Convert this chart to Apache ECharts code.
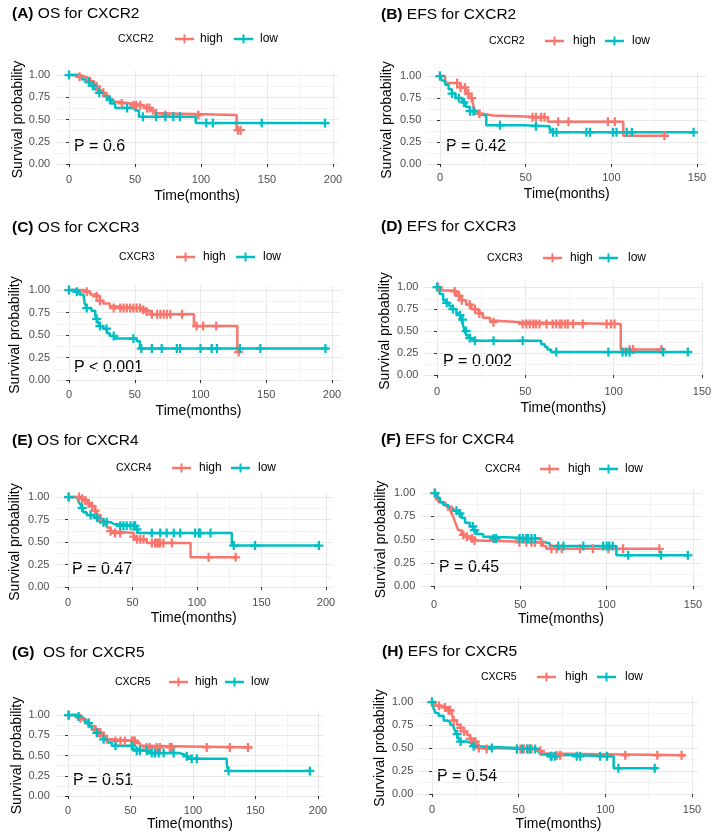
<!DOCTYPE html>
<html><head><meta charset="utf-8">
<script src="https://cdn.jsdelivr.net/npm/echarts@6/dist/echarts.min.js"></script>
<style>html,body{margin:0;padding:0;background:#fff}#c{width:720px;height:833px}</style>
</head><body><div id="c"></div>
<script>
// ---------------- DATA ----------------
const panelLabels = ['(A)', '(B)', '(C)', '(D)', '(E)', '(F)', '(G)', '(H)'];
const panelTitles = ['OS for CXCR2', 'EFS for CXCR2', 'OS for CXCR3', 'EFS for CXCR3',
                     'OS for CXCR4', 'EFS for CXCR4', 'OS for CXCR5', 'EFS for CXCR5'];
const legendTitles = ['CXCR2', 'CXCR2', 'CXCR3', 'CXCR3', 'CXCR4', 'CXCR4', 'CXCR5', 'CXCR5'];
const groupNames = ['high', 'low'];
const pValues = ['P = 0.6', 'P = 0.42', 'P < 0.001', 'P = 0.002', 'P = 0.47', 'P = 0.45', 'P = 0.51', 'P = 0.54'];
const xTicksOS = [0, 50, 100, 150, 200];
const xTicksEFS = [0, 50, 100, 150];
const yTicks = [0, 0.25, 0.5, 0.75, 1];
const xAxisTitle = 'Time(months)';
const yAxisTitle = 'Survival probability';

// Kaplan-Meier steps [time, survival] (last point = end of follow-up) and censor times
const aHighSteps = [[0,1],[8,0.98],[12,0.96],[16,0.93],[19,0.9],[21,0.87],[23,0.83],[25,0.8],[27,0.77],[30,0.73],[33,0.7],[37,0.68],[47,0.66],[57,0.63],[62,0.6],[65,0.57],[70,0.55],[127,0.38],[131,0.38]];
const aHighCensor = [8,16,21,26,40,49,51,54,59,61,66,73,98,128,130];
const aLowSteps = [[0,1],[6,0.98],[10,0.95],[13,0.92],[16,0.88],[19,0.84],[22,0.8],[26,0.76],[29,0.72],[32,0.68],[35,0.63],[50,0.6],[53,0.53],[96,0.46],[194,0.46]];
const aLowCensor = [0,15,18,23,31,44,56,66,73,79,84,104,109,146,194];

const bHighSteps = [[0,1],[3,0.92],[12,0.87],[15,0.8],[17,0.75],[19,0.7],[20,0.63],[21,0.6],[23,0.57],[25,0.55],[31,0.53],[63,0.48],[107,0.32],[133,0.32]];
const bHighCensor = [0,10,12,14.5,16.5,18.5,23,54,56,59,61,69,75,98,102,131];
const bLowSteps = [[0,1],[1,0.95],[3,0.9],[5,0.85],[7,0.8],[9,0.75],[13,0.7],[15,0.65],[17.5,0.6],[20,0.57],[22,0.55],[27,0.44],[48.5,0.43],[64,0.39],[66,0.36],[148,0.36]];
const bLowCensor = [0,7,11,14,17.5,19.5,35,56,66,68,85.5,87.5,101,103,109,112,148];

const cHighSteps = [[0,1],[11,0.98],[16,0.95],[21,0.93],[23.5,0.88],[26,0.85],[31,0.82],[34,0.8],[55,0.78],[59,0.76],[63,0.73],[95,0.6],[128,0.31],[129,0.31]];
const cHighCensor = [0,13.5,21,23.5,34,39,41.5,44,46.5,49,51.5,54,56.5,59,63,67,69.5,72,74.5,77,86,97,102,112,129];
const cLowSteps = [[0,1],[6,0.98],[8,0.95],[11,0.93],[12,0.85],[13.5,0.8],[17,0.77],[20,0.72],[21,0.68],[22,0.64],[23.5,0.6],[26,0.57],[29,0.52],[31,0.49],[35,0.46],[51.5,0.43],[54,0.35],[197,0.35]];
const cLowCensor = [0,6,13.5,21,23.5,28.5,34,49,55,63,70.5,82,84.5,100,108.5,112.5,130,145.5,195];

const dHighSteps = [[0,1],[2.5,0.96],[9,0.95],[11,0.9],[14,0.85],[16.5,0.8],[19.5,0.75],[22,0.73],[24,0.7],[26,0.65],[30,0.62],[32,0.6],[47,0.58],[104,0.29],[128,0.29]];
const dHighCensor = [0.5,10,12.5,14,18.5,21.5,24,32,48.5,50.5,52.5,54.5,56,58,62,65.5,67.5,69.5,70.5,72.5,74,77,82.5,96,98.5,100.5,109,111,127];
const dLowSteps = [[0,1],[1.5,0.92],[3.5,0.85],[5,0.82],[7,0.78],[9,0.75],[11,0.7],[12.8,0.68],[13.7,0.63],[14.7,0.57],[15.7,0.5],[16.6,0.45],[18.5,0.42],[20,0.39],[59,0.35],[61,0.32],[62.5,0.29],[64.5,0.26],[143,0.26]];
const dLowCensor = [0,5.5,9,13,14.5,16.5,18.5,21.5,32,48.5,67.5,97,105,107,109,128,142];

const eHighSteps = [[0,1],[9.5,0.98],[12,0.96],[16,0.93],[18.5,0.9],[21,0.85],[22.5,0.8],[25,0.75],[27.5,0.7],[30,0.66],[33,0.62],[35.5,0.6],[51,0.56],[53.5,0.53],[61,0.49],[95,0.33],[131,0.33]];
const eHighCensor = [0.5,8.5,11,13.5,16,18.5,21,22.5,25,33,36.5,40.5,51,53.5,56,58.5,65,67.5,69,70.5,71.5,74,80.5,109,130];
const eLowSteps = [[0,1],[5.5,0.98],[8,0.95],[9.5,0.92],[11,0.88],[12,0.83],[14.5,0.8],[20,0.77],[24,0.73],[27.5,0.72],[33,0.7],[35.5,0.68],[53.5,0.64],[55,0.6],[127,0.46],[195,0.46]];
const eLowCensor = [0.5,11,17.5,22.5,27.5,30,40.5,43,45.5,48.5,51,52,53.5,65,71.5,76.5,82,87,98.5,101.5,102.5,110.5,128.5,145,194.5];

const fHighSteps = [[0,1],[1.2,0.93],[2.5,0.9],[6.4,0.88],[7.3,0.85],[9.2,0.82],[10.2,0.78],[11,0.75],[12,0.7],[13,0.65],[14,0.6],[16,0.55],[18,0.53],[20.8,0.51],[22.7,0.49],[24.7,0.47],[63,0.43],[65,0.4],[130.5,0.4]];
const fHighCensor = [0.5,10,17,19,22,23.5,49.5,53.5,56.5,58.5,62,68,71,74,84.5,92,101,109.5,130.5];
const fLowSteps = [[0,1],[2,0.95],[3.5,0.9],[5.4,0.87],[8.3,0.84],[11,0.81],[14,0.78],[16,0.73],[18,0.68],[20.8,0.64],[22.7,0.6],[24.7,0.56],[28.5,0.53],[32.4,0.51],[62,0.48],[63,0.46],[67,0.43],[105.6,0.33],[147,0.33]];
const fLowCensor = [0.5,13,15,22.5,23.5,34.5,36,49.5,51.5,53.5,54.5,56.5,58.5,72,75,86.5,98,100,101.5,103.5,112.5,131.5,147];

const gHighSteps = [[0,1],[7,0.98],[10,0.96],[12.5,0.93],[15,0.9],[17.8,0.86],[21.8,0.82],[24.5,0.78],[27,0.74],[31,0.7],[35,0.68],[55,0.65],[57.7,0.62],[60,0.6],[147,0.6]];
const gHighCensor = [0.5,10,16.5,22,24.5,26,28.5,31,38,42,45.5,51,52.5,53.5,63,65.5,71,73.5,81.5,83,111,129.5,144];
const gLowSteps = [[0,1],[7,0.98],[11,0.95],[14,0.9],[16.8,0.86],[19,0.82],[21.8,0.78],[24.5,0.74],[28.5,0.7],[32,0.66],[35,0.62],[52,0.58],[55,0.56],[64,0.53],[89,0.51],[93.5,0.49],[96,0.46],[127,0.4],[128,0.31],[195,0.31]];
const gLowCensor = [0.5,8.5,16.5,23,28.5,38,51,55,57.5,63,67,69.5,72.5,76.5,84.5,95,99,103,128.5,193.5];

const hHighSteps = [[0,1],[2,0.96],[4.8,0.94],[8.7,0.91],[11.5,0.87],[12.5,0.8],[14.4,0.75],[16.3,0.72],[18.3,0.68],[20.2,0.64],[22,0.6],[24,0.57],[26,0.53],[27,0.5],[28,0.49],[60.6,0.47],[63,0.44],[65,0.42],[146,0.42]];
const hHighCensor = [0,4,7.5,9.5,10.5,12.5,16.5,18.5,22,25,27,31.5,49,51,53,55,56.5,57.5,62.5,72,74,111.5,130,144];
const hLowSteps = [[0,1],[1,0.93],[2,0.88],[3.8,0.85],[6.7,0.8],[8.7,0.78],[10.6,0.75],[12.5,0.72],[13.5,0.68],[14.4,0.65],[15.4,0.6],[16.3,0.57],[20.2,0.55],[23,0.52],[25,0.5],[49,0.49],[61.5,0.46],[62.5,0.43],[65.4,0.41],[104.8,0.28],[130,0.28]];
const hLowCensor = [0,14.5,16.5,24,34.5,49,52,55,56.5,59.5,68.5,69,71,83.5,85.5,97,101,107.5,128.5];

const highSteps = [aHighSteps, bHighSteps, cHighSteps, dHighSteps, eHighSteps, fHighSteps, gHighSteps, hHighSteps];
const highCensor = [aHighCensor, bHighCensor, cHighCensor, dHighCensor, eHighCensor, fHighCensor, gHighCensor, hHighCensor];
const lowSteps = [aLowSteps, bLowSteps, cLowSteps, dLowSteps, eLowSteps, fLowSteps, gLowSteps, hLowSteps];
const lowCensor = [aLowCensor, bLowCensor, cLowCensor, dLowCensor, eLowCensor, fLowCensor, gLowCensor, hLowCensor];
const xTicksPerPanel = [xTicksOS, xTicksEFS, xTicksOS, xTicksEFS, xTicksOS, xTicksEFS, xTicksOS, xTicksEFS];

// ---------------- LAYOUT / STYLE ----------------
const FF = '"Liberation Sans", Arial, sans-serif';
const COLORS = ['#F8766D', '#00BFC4'];
// x0: pixel of time 0, xe: pixel of last x tick, y1: pixel of 1.00, y0: pixel of 0.00
const layout = [
  {x0:69,  xe:333, y1:75,  y0:164, lblY:180, nGap:20.5, yGap:31, tx:12,  ty:14,  lg:[118,39,175,200,234,260],  px:74,  py:147, titleGap:' '},
  {x0:440, xe:697, y1:76,  y0:164, lblY:178, nGap:19,   yGap:33, tx:381, ty:15,  lg:[489,41,545,573,605,632],  px:446, py:147, titleGap:' '},
  {x0:69,  xe:332, y1:290, y0:380, lblY:395, nGap:19.5, yGap:34, tx:12,  ty:228, lg:[119,257,176,203,236,263], px:74,  py:368, titleGap:' '},
  {x0:437, xe:702, y1:287, y0:375, lblY:392, nGap:22,   yGap:32, tx:381, ty:227, lg:[487,258,543,570,599,628], px:443, py:362, titleGap:' '},
  {x0:68,  xe:326, y1:497, y0:587, lblY:603, nGap:20,   yGap:33, tx:12,  ty:441, lg:[116,468,172,199,231,258], px:72,  py:570, titleGap:' '},
  {x0:434, xe:693, y1:493, y0:586, lblY:605, nGap:21,   yGap:33, tx:381, ty:440, lg:[485,469,540,568,599,625], px:439, py:568, titleGap:' '},
  {x0:68,  xe:318, y1:715, y0:796, lblY:811, nGap:16.5, yGap:32, tx:12,  ty:653, lg:[115,682,169,195,225,251], px:73,  py:781, titleGap:'  '},
  {x0:432, xe:692, y1:702, y0:794, lblY:810, nGap:19,   yGap:32, tx:382, ty:652, lg:[481,677,537,565,597,625], px:437, py:777, titleGap:' '}
];
const PLUS = 'path://M3,0H5V3H8V5H5V8H3V5H0V3H3Z';
const EXPAND = 0.05; // ggplot default axis expansion

function survAt(steps, t) {
  let s = steps[0][1];
  for (const p of steps) { if (p[0] <= t) s = p[1]; }
  return s;
}

const grids = [], xAxes = [], yAxes = [], series = [], graphics = [];
for (let i = 0; i < 8; i++) {
  const L = layout[i];
  const xt = xTicksPerPanel[i];
  const tmax = Math.max(highSteps[i][highSteps[i].length - 1][0], lowSteps[i][lowSteps[i].length - 1][0],
                        Math.max(...highCensor[i]), Math.max(...lowCensor[i]));
  const xMin = -EXPAND * tmax, xMax = (1 + EXPAND) * tmax;
  const yMin = -EXPAND, yMax = 1 + EXPAND;
  const sx = (L.xe - L.x0) / xt[xt.length - 1];
  const sy = (L.y0 - L.y1);
  const gLeft = L.x0 + sx * xMin, gWidth = sx * (xMax - xMin);
  const gTop = L.y1 - sy * (yMax - 1), gHeight = sy * (yMax - yMin);
  grids.push({left: gLeft, top: gTop, width: gWidth, height: gHeight, containLabel: false});
  const xStep = xt[1] - xt[0], yStep = yTicks[1] - yTicks[0];
  xAxes.push({
    gridIndex: i, type: 'value', min: xMin, max: xMax, minInterval: xStep, maxInterval: xStep,
    axisLine: {show: false},
    axisTick: {show: true, length: 3, customValues: xt, lineStyle: {color: '#333333', width: 1}},
    axisLabel: {margin: L.lblY - 5.5 - (gTop + gHeight), customValues: xt, color: '#4d4d4d', fontSize: 11, fontFamily: FF},
    splitLine: {show: true, customValues: xt, lineStyle: {color: '#e8e8e8', width: 1}},
    minorTick: {show: false, splitNumber: 2},
    minorSplitLine: {show: true, lineStyle: {color: '#f3f3f3', width: 1}},
    name: xAxisTitle, nameLocation: 'middle', nameGap: L.nGap,
    nameTextStyle: {fontSize: 14, color: '#000', fontFamily: FF}
  });
  yAxes.push({
    gridIndex: i, type: 'value', min: yMin, max: yMax, minInterval: yStep, maxInterval: yStep,
    axisLine: {show: false},
    axisTick: {show: true, length: 3, customValues: yTicks, lineStyle: {color: '#333333', width: 1}},
    axisLabel: {margin: 6, customValues: yTicks, color: '#4d4d4d', fontSize: 11, fontFamily: FF, formatter: v => v.toFixed(2)},
    splitLine: {show: true, customValues: yTicks, lineStyle: {color: '#e8e8e8', width: 1}},
    minorTick: {show: false, splitNumber: 2},
    minorSplitLine: {show: true, lineStyle: {color: '#f3f3f3', width: 1}},
    name: yAxisTitle, nameLocation: 'middle', nameGap: L.yGap, nameRotate: 90,
    nameTextStyle: {fontSize: 14, color: '#000', fontFamily: FF}
  });
  const groups = [[highSteps[i], highCensor[i]], [lowSteps[i], lowCensor[i]]];
  groups.forEach((g, k) => {
    series.push({
      name: groupNames[k], type: 'line', xAxisIndex: i, yAxisIndex: i, data: g[0], step: 'end',
      showSymbol: false, symbol: 'none', clip: false, z: 2,
      lineStyle: {width: 2.5, color: COLORS[k]}, itemStyle: {color: COLORS[k]}
    });
  });
  groups.forEach((g, k) => {
    series.push({
      name: groupNames[k], type: 'scatter', xAxisIndex: i, yAxisIndex: i,
      data: g[1].map(t => [t, survAt(g[0], t)]),
      symbol: PLUS, symbolSize: 9, clip: false, z: 3,
      itemStyle: {color: COLORS[k], opacity: 1}
    });
  });
  // panel title
  graphics.push({type: 'text', x: L.tx, y: L.ty, style: {
    text: '{b|' + panelLabels[i] + '}{n|' + L.titleGap + panelTitles[i] + '}',
    rich: {b: {fontWeight: 'bold', fontSize: 15.5, fontFamily: FF, fill: '#000'},
           n: {fontSize: 15.5, fontFamily: FF, fill: '#000'}},
    verticalAlign: 'middle', align: 'left'}});
  // legend
  const lg = L.lg;
  graphics.push({type: 'text', x: lg[0], y: lg[1], style: {text: legendTitles[i], fontSize: 10.5, fontFamily: FF, fill: '#000', verticalAlign: 'middle', align: 'left'}});
  [[lg[2], lg[3]], [lg[4], lg[5]]].forEach((pos, k) => {
    graphics.push({type: 'line', shape: {x1: pos[0], y1: lg[1], x2: pos[0] + 19, y2: lg[1]}, style: {stroke: COLORS[k], lineWidth: 2.5}});
    graphics.push({type: 'line', shape: {x1: pos[0] + 9.5, y1: lg[1] - 4.5, x2: pos[0] + 9.5, y2: lg[1] + 4.5}, style: {stroke: COLORS[k], lineWidth: 2}});
    graphics.push({type: 'text', x: pos[1], y: lg[1], style: {text: groupNames[k], fontSize: 12, fontFamily: FF, fill: '#000', verticalAlign: 'middle', align: 'left'}});
  });
  // p-value
  graphics.push({type: 'text', x: L.px, y: L.py, style: {text: pValues[i], fontSize: 16, fontFamily: FF, fill: '#000', verticalAlign: 'middle', align: 'left'}});
}

const chart = echarts.init(document.getElementById('c'), null, {renderer: 'canvas'});
chart.setOption({
  animation: false,
  backgroundColor: '#ffffff',
  grid: grids, xAxis: xAxes, yAxis: yAxes, series: series,
  graphic: {elements: graphics}
});
</script></body></html>
